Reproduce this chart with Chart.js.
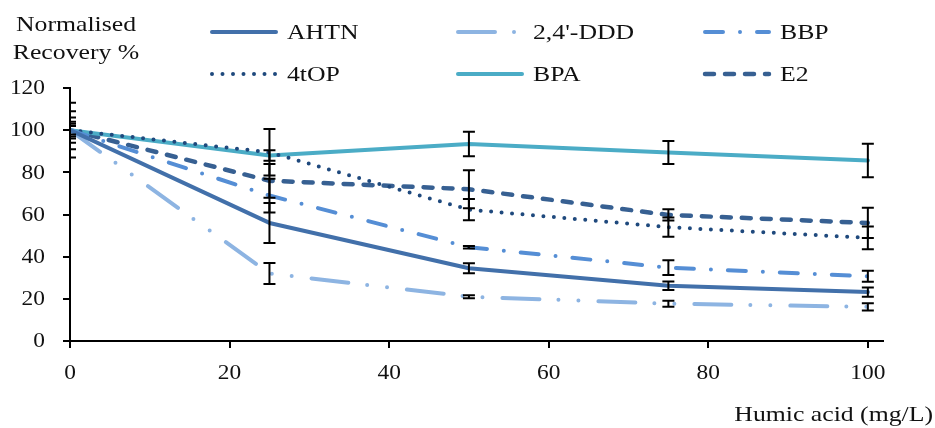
<!DOCTYPE html>
<html>
<head>
<meta charset="utf-8">
<script src="https://cdn.jsdelivr.net/npm/chart.js@4.4.1/dist/chart.umd.min.js"></script>
<style>
  html, body { margin: 0; padding: 0; background: #fff; }
  #chart { display: block; }
</style>
</head>
<body>
<canvas id="chart" width="935" height="428"></canvas>
<script>
// humic acid recovery chart
const xValues = [0, 25, 50, 75, 100];
const seriesNames = ['AHTN', "2,4'-DDD", 'BBP', '4tOP', 'BPA', 'E2'];

const ahtn = [100, 56, 34.5, 26.2, 23.2];
const ddd = [100, 32, 21, 17.7, 16.2];
const bbp = [100, 69, 44.5, 34.8, 30.7];
const top4 = [100, 89.5, 62.3, 54, 48.9];
const bpa = [100, 88, 93.4, 89.4, 85.6];
const e2 = [100, 76, 72, 59.8, 56];

const ahtnErr = [9, 9.5, 2.4, 2, 2.2];
const dddErr = [4, 5, 0.7, 1.4, 1.75];
const bbpErr = [6, 8, 0.6, 3.5, 2.6];
const top4Err = [13, 11, 5, 4.6, 5.4];
const bpaErr = [2, 2.5, 5.8, 5.5, 7.9];
const e2Err = [3, 8, 9, 2.7, 7.2];

const xTicks = [0, 20, 40, 60, 80, 100];
const yTicks = [0, 20, 40, 60, 80, 100, 120];

const xTitle = 'Humic acid (mg/L)';
const yTitle = ['Normalised', 'Recovery %'];

const allValues = [ahtn, ddd, bbp, top4, bpa, e2];
const allErrors = [ahtnErr, dddErr, bbpErr, top4Err, bpaErr, e2Err];

// line looks, same order as the series
const colors = ['#4270AA', '#8DB4E2', '#558ED5', '#1F497D', '#4BACC6', '#376092'];
const dashes = [[], [37, 19, 0, 20, 0, 20], [18, 17, 0, 17], [0, 10.5], [], [9, 11]];
const widths = [4, 4, 4, 4, 4, 4.5];

const FONT = '"Liberation Serif", "Times New Roman", serif';
const SX = 1.17;

function stretchText(ctx, text, x, y, align, size, baseline) {
    ctx.save();
    ctx.font = size + 'px ' + FONT;
    ctx.fillStyle = '#111';
    ctx.textAlign = align;
    ctx.textBaseline = baseline || 'alphabetic';
    ctx.translate(x, y);
    ctx.scale(SX, 1);
    ctx.fillText(text, 0, 0);
    ctx.restore();
}

const datasets = seriesNames.map((name, i) => ({
    label: name,
    data: xValues.map((x, j) => ({ x: x, y: allValues[i][j] })),
    borderColor: colors[i],
    backgroundColor: colors[i],
    borderWidth: widths[i],
    borderDash: dashes[i],
    borderCapStyle: 'round',
    borderJoinStyle: 'round',
    pointRadius: 0,
    tension: 0,
    fill: false
}));

const errorBars = {
    id: 'errorBars',
    afterDatasetsDraw(chart) {
        const ctx = chart.ctx;
        const xs = chart.scales.x;
        const ys = chart.scales.y;
        const area = chart.chartArea;
        ctx.save();
        ctx.beginPath();
        ctx.rect(area.left - 1, 0, chart.width, chart.height);
        ctx.clip();
        ctx.strokeStyle = '#000';
        ctx.lineWidth = 2;
        ctx.setLineDash([]);
        for (let i = 0; i < allValues.length; i++) {
            for (let j = 0; j < xValues.length; j++) {
                const px = xs.getPixelForValue(xValues[j]);
                const top = ys.getPixelForValue(allValues[i][j] + allErrors[i][j]);
                const bot = ys.getPixelForValue(allValues[i][j] - allErrors[i][j]);
                ctx.beginPath();
                ctx.moveTo(px, top);
                ctx.lineTo(px, bot);
                ctx.moveTo(px - 6, top);
                ctx.lineTo(px + 6, top);
                ctx.moveTo(px - 6, bot);
                ctx.lineTo(px + 6, bot);
                ctx.stroke();
            }
        }
        ctx.restore();
    }
};

const textLayer = {
    id: 'textLayer',
    afterDraw(chart) {
        const ctx = chart.ctx;
        const xs = chart.scales.x;
        const ys = chart.scales.y;

        yTicks.forEach(v => {
            stretchText(ctx, String(v), 45, ys.getPixelForValue(v) + 1, 'right', 20, 'middle');
        });
        xTicks.forEach(v => {
            stretchText(ctx, String(v), xs.getPixelForValue(v), 374, 'center', 20, 'middle');
        });

        stretchText(ctx, yTitle[0], 76, 31, 'center', 22);
        stretchText(ctx, yTitle[1], 76, 59, 'center', 22);
        stretchText(ctx, xTitle, 933, 421, 'right', 22);

        // legend, 3 columns x 2 rows
        const colX = [210, 456, 703];
        const rowY = [32, 74];
        for (let i = 0; i < seriesNames.length; i++) {
            const sx = colX[i % 3];
            const sy = rowY[Math.floor(i / 3)];
            ctx.save();
            ctx.strokeStyle = colors[i];
            ctx.lineWidth = widths[i];
            ctx.lineCap = 'round';
            ctx.setLineDash(dashes[i]);
            ctx.beginPath();
            ctx.moveTo(sx + 2, sy);
            ctx.lineTo(sx + 66, sy);
            ctx.stroke();
            ctx.restore();
            stretchText(ctx, seriesNames[i], sx + 77, sy + 7, 'left', 22);
        }
    }
};

new Chart(document.getElementById('chart'), {
    type: 'line',
    data: { datasets: datasets },
    options: {
        responsive: false,
        animation: false,
        devicePixelRatio: 1,
        layout: { padding: { top: 88, right: 52, bottom: 0, left: 0 } },
        plugins: {
            legend: { display: false },
            tooltip: { enabled: false }
        },
        scales: {
            x: {
                type: 'linear',
                min: 0,
                max: 101.9,
                afterBuildTicks: scale => { scale.ticks = xTicks.map(v => ({ value: v })); },
                afterFit: scale => { scale.height = 87; },
                ticks: { display: false },
                grid: { drawOnChartArea: false, drawTicks: true, tickLength: 7, color: '#000', lineWidth: 2 },
                border: { display: true, color: '#000', width: 2 }
            },
            y: {
                type: 'linear',
                min: 0,
                max: 120,
                afterBuildTicks: scale => { scale.ticks = yTicks.map(v => ({ value: v })); },
                afterFit: scale => { scale.width = 70; },
                ticks: { display: false },
                grid: { drawOnChartArea: false, drawTicks: true, tickLength: 7, color: '#000', lineWidth: 2 },
                border: { display: true, color: '#000', width: 2 }
            }
        }
    },
    plugins: [errorBars, textLayer]
});
</script>
</body>
</html>
